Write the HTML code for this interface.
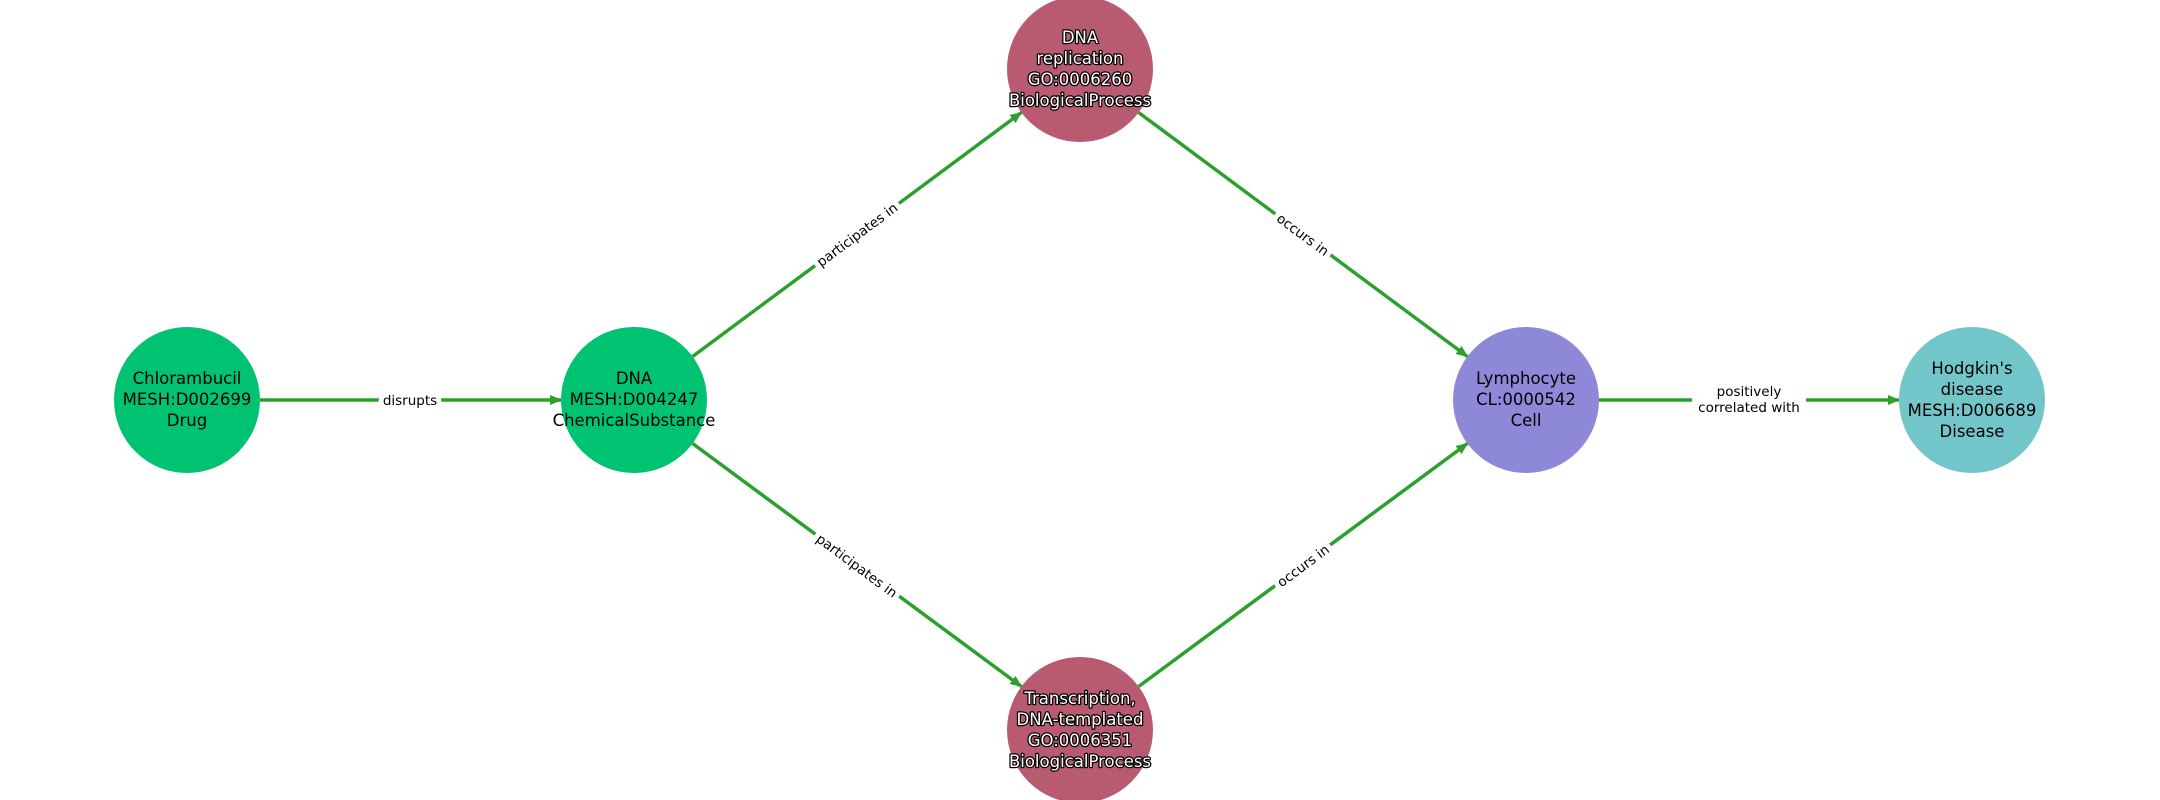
<!DOCTYPE html>
<html><head><meta charset="utf-8"><style>
html,body{margin:0;padding:0;background:#fff;width:2160px;height:800px;overflow:hidden}
svg{display:block}
.n{font-family:"DejaVu Sans","Liberation Sans",sans-serif;font-size:16.5px;text-anchor:middle;fill:#000}
.w{fill:#fff;stroke:#000;stroke-width:2.5px;paint-order:stroke;stroke-linejoin:round}
.e{font-family:"DejaVu Sans","Liberation Sans",sans-serif;font-size:13.5px;text-anchor:middle;fill:#000;stroke:#fff;stroke-width:10px;paint-order:stroke;stroke-linejoin:round}
line{stroke:#2ca02c;stroke-width:3.5}
</style></head><body>
<svg width="2160" height="800" viewBox="0 0 2160 800">
<defs><marker id="a" markerWidth="12" markerHeight="10" refX="11" refY="5" orient="auto" markerUnits="userSpaceOnUse"><path d="M0,0 L12,5 L0,10 Z" fill="#2ca02c"/></marker></defs>
<line x1="260" y1="400" x2="561" y2="400" marker-end="url(#a)"/>
<line x1="692.6" y1="356.5" x2="1021.4" y2="112.5" marker-end="url(#a)"/>
<line x1="692.6" y1="443.5" x2="1021.4" y2="686.5" marker-end="url(#a)"/>
<line x1="1138.6" y1="112.5" x2="1467.4" y2="356.5" marker-end="url(#a)"/>
<line x1="1138.6" y1="686.5" x2="1467.4" y2="443.5" marker-end="url(#a)"/>
<line x1="1599" y1="400" x2="1899" y2="400" marker-end="url(#a)"/>
<rect x="1692" y="380" width="114" height="40" fill="#fff"/>
<circle cx="187" cy="400" r="73" fill="#00c372"/>
<circle cx="634" cy="400" r="73" fill="#00c372"/>
<circle cx="1080" cy="69" r="73" fill="#b85a70"/>
<circle cx="1080" cy="730" r="73" fill="#b85a70"/>
<circle cx="1526" cy="400" r="73" fill="#8e88d8"/>
<circle cx="1972" cy="400" r="73" fill="#72c6ca"/>
<text class="e" x="410" y="405">disrupts</text>
<text class="e" transform="translate(857,234.5) rotate(-36.6)" y="5">participates in</text>
<text class="e" transform="translate(857,565.5) rotate(36.6)" y="5">participates in</text>
<text class="e" transform="translate(1303,234.5) rotate(36.6)" y="5">occurs in</text>
<text class="e" transform="translate(1303,565.5) rotate(-36.6)" y="5">occurs in</text>
<text class="e" x="1749" y="396">positively</text>
<text class="e" x="1749" y="412">correlated with</text>
<text class="n" x="187" y="384">Chlorambucil</text>
<text class="n" x="187" y="405">MESH:D002699</text>
<text class="n" x="187" y="426">Drug</text>
<text class="n" x="634" y="384">DNA</text>
<text class="n" x="634" y="405">MESH:D004247</text>
<text class="n" x="634" y="426">ChemicalSubstance</text>
<text class="n w" x="1080" y="43">DNA</text>
<text class="n w" x="1080" y="64">replication</text>
<text class="n w" x="1080" y="85">GO:0006260</text>
<text class="n w" x="1080" y="106">BiologicalProcess</text>
<text class="n w" x="1080" y="704">Transcription,</text>
<text class="n w" x="1080" y="725">DNA-templated</text>
<text class="n w" x="1080" y="746">GO:0006351</text>
<text class="n w" x="1080" y="767">BiologicalProcess</text>
<text class="n" x="1526" y="384">Lymphocyte</text>
<text class="n" x="1526" y="405">CL:0000542</text>
<text class="n" x="1526" y="426">Cell</text>
<text class="n" x="1972" y="374">Hodgkin's</text>
<text class="n" x="1972" y="395">disease</text>
<text class="n" x="1972" y="416">MESH:D006689</text>
<text class="n" x="1972" y="437">Disease</text>
</svg>
</body></html>
